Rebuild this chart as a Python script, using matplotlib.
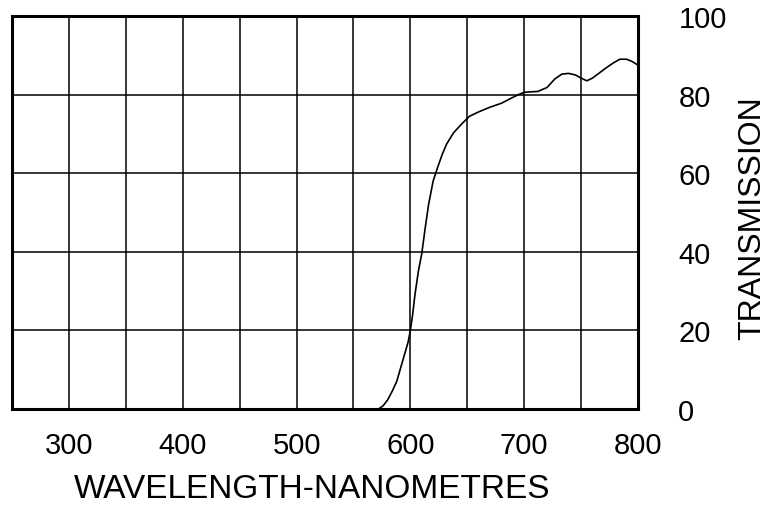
import numpy as np
import matplotlib.pyplot as plt
from matplotlib.ticker import MultipleLocator

# transmission curve (nm, %)
wavelength = [250, 572, 576, 580, 584, 588, 592, 595, 598, 600, 602, 604, 607, 610,
              613, 616, 620, 624, 628, 632, 638, 645, 652, 660, 670, 680, 688, 695,
              700, 712, 720, 727, 733, 739, 745, 750, 755, 760, 766, 772, 778, 784,
              790, 795, 800]
transmission = [0, 0, 0.8, 2.3, 4.5, 7, 11, 14, 17, 20, 24, 29, 35, 39.5,
                46, 52, 58, 61.5, 64.8, 67.5, 70.3, 72.5, 74.5, 75.6, 76.8, 77.8, 79, 80,
                80.6, 80.8, 81.8, 84, 85.2, 85.4, 85.0, 84.2, 83.5, 84.2, 85.5, 86.8, 88, 89,
                89, 88.4, 87.5]

x_ticks = [300, 400, 500, 600, 700, 800]
y_ticks = [0, 20, 40, 60, 80, 100]

plt.rcParams['font.family'] = ['Liberation Sans', 'DejaVu Sans']

fig = plt.figure(figsize=(7.7, 5.1), dpi=100)
ax = fig.add_axes([12/770, 100/510, 626/770, 393/510])

ax.plot(wavelength, transmission, color='black', lw=1.2, zorder=3)

ax.set_xlim(250, 800)
ax.set_ylim(0, 100)
ax.set_xticks(x_ticks)
ax.xaxis.set_minor_locator(MultipleLocator(50))
ax.set_yticks(y_ticks)
ax.grid(True, which='both', color='black', lw=1.1)
ax.set_axisbelow(True)

ax.yaxis.tick_right()
ax.tick_params(axis='both', which='both', length=0)
ax.tick_params(axis='x', labelsize=21, pad=16)
ax.tick_params(axis='y', labelsize=21, pad=29)
for lbl in ax.get_yticklabels():
    lbl.set_horizontalalignment('left')

for s in ax.spines.values():
    s.set_linewidth(2.2)
    s.set_color('black')

fig.text(312/770, 20/510, 'WAVELENGTH-NANOMETRES', fontsize=24,
         ha='center', va='center')
fig.text(752/770, (510-218)/510, 'TRANSMISSION', fontsize=23,
         rotation=90, ha='center', va='center')

fig.savefig('out.png', dpi=100)
